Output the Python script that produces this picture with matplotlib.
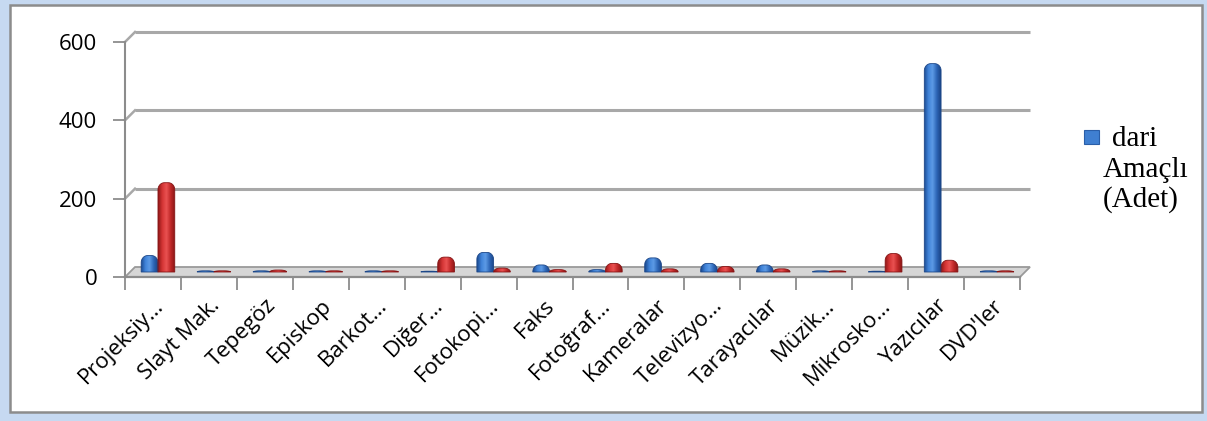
import numpy as np
import matplotlib
matplotlib.use("Agg")
import matplotlib.pyplot as plt
from matplotlib.patches import Polygon, Rectangle, FancyBboxPatch
from matplotlib.colors import LinearSegmentedColormap

plt.rcParams['font.family'] = ['Open Sans', 'DejaVu Sans']

# --- data ---
categories = ["Projeksiy…", "Slayt Mak.", "Tepegöz", "Episkop", "Barkot…",
              "Diğer…", "Fotokopi…", "Faks", "Fotoğraf…", "Kameralar",
              "Televizyo…", "Tarayacılar", "Müzik…", "Mikrosko…", "Yazıcılar",
              "DVD'ler"]
idari = [42, 3, 3, 3, 3, 2, 50, 18, 6, 36, 22, 18, 3, 2, 532, 3]
egitim = [228, 3, 5, 3, 3, 38, 10, 6, 22, 8, 14, 8, 3, 47, 30, 3]
yticks = [0, 200, 400, 600]
legend_lines = ["dari", "Amaçlı", "(Adet)"]

W, H = 1207, 421
n = len(categories)

fig = plt.figure(figsize=(W / 100, H / 100), dpi=100)
fig.patch.set_facecolor('#c6d9f1')


def fx(x):
    return x / W


def fy(y):
    return 1 - y / H


# white chart panel with grey border (behind the axes)
panel = FancyBboxPatch((fx(10), fy(412)), fx(1202) - fx(10), fy(5) - fy(412),
                       boxstyle="square,pad=0", transform=fig.transFigure,
                       facecolor='white', edgecolor='#8c8c8c', lw=1.8, zorder=-5)
fig.patches.append(panel)

# plot area (front plane)
ax_l, ax_r, ax_t, ax_b = 125, 1020, 42, 277
ax = fig.add_axes([fx(ax_l), fy(ax_b), (ax_r - ax_l) / W, (ax_b - ax_t) / H])
ax.set_zorder(2)
ax.patch.set_alpha(0)
for s in ['top', 'right', 'bottom']:
    ax.spines[s].set_visible(False)
ax.spines['left'].set_color('#8c8c8c')
ax.spines['left'].set_linewidth(1.5)

# 3d depth offset (pixels -> data units)
depth = 10
dx = depth * n / (ax_r - ax_l)
dy = depth * 600 / (ax_b - ax_t)

grid_c = '#a8a8a8'
for v in yticks[1:]:
    ax.plot([-0.5 + dx, n - 0.5 + dx], [v + dy, v + dy], color=grid_c, lw=2.2,
            clip_on=False, solid_capstyle='butt', zorder=1)
    ax.plot([-0.5, -0.5 + dx], [v, v + dy], color=grid_c, lw=1.8,
            clip_on=False, zorder=1)

# floor
floor = Polygon([(-0.5, 0), (n - 0.5, 0), (n - 0.5 + dx, dy), (-0.5 + dx, dy)],
                closed=True, facecolor='#d6d6d6', edgecolor='#9a9a9a', lw=1.3,
                clip_on=False, zorder=2)
ax.add_patch(floor)
ax.plot([-0.5, n - 0.5], [0, 0], color='#8c8c8c', lw=1.6, clip_on=False, zorder=2)

blue_cm = LinearSegmentedColormap.from_list(
    'b', ['#1b4a90', '#3f82d8', '#5d9be6', '#2e67b8', '#1a4486'])
red_cm = LinearSegmentedColormap.from_list(
    'r', ['#8f1717', '#d43434', '#ea5252', '#c02828', '#8a1616'])
grad = np.linspace(0, 1, 64).reshape(1, -1)

bw = 0.3
rx = bw * 0.38
ry = 7 * 600 / (ax_b - ax_t)
base = dy / 2


def bar_shape(x0, h):
    r_y = min(ry, h)
    t = np.linspace(0, np.pi / 2, 10)
    top = base + h
    pts = [(x0, base), (x0, top - r_y)]
    pts += [(x0 + rx - rx * np.cos(a), top - r_y + r_y * np.sin(a)) for a in t]
    pts += [(x0 + bw - rx + rx * np.sin(a), top - r_y + r_y * np.cos(a)) for a in t]
    pts += [(x0 + bw, base)]
    return pts


for i in range(n):
    for j, (vals, cm, ec) in enumerate([(idari, blue_cm, '#1d4788'),
                                       (egitim, red_cm, '#861515')]):
        h = vals[i]
        x0 = i + dx / 2 - bw + j * bw
        poly = Polygon(bar_shape(x0, h), closed=True, facecolor='none',
                       edgecolor=ec, lw=0.6, zorder=4, clip_on=False)
        ax.add_patch(poly)
        im = ax.imshow(grad, cmap=cm, extent=(x0, x0 + bw, base, base + h + 1),
                       aspect='auto', zorder=3, interpolation='bilinear')
        im.set_clip_path(poly)

ax.set_xlim(-0.5, n - 0.5)
ax.set_ylim(0, 600)

# axis ticks
ax.set_yticks(yticks)
ax.tick_params(axis='y', length=9, width=1.3, color='#8c8c8c', pad=11,
               labelsize=16, labelcolor='black')
ax.set_xticks(np.arange(n + 1) - 0.5)
ax.set_xticklabels([])
ax.tick_params(axis='x', which='major', length=9, width=1.3, color='#8c8c8c')
ax.set_xticks(np.arange(n), minor=True)
ax.set_xticklabels(categories, minor=True, rotation=45, ha='right',
                   va='top', rotation_mode='anchor', fontsize=16)
ax.tick_params(axis='x', which='minor', length=0, pad=13)

# legend (only the first series is visible in the original)
fig.patches.append(Rectangle((fx(1084), fy(144)), 15 / W, 14 / H,
                             transform=fig.transFigure, facecolor='#3f7fd1',
                             edgecolor='#2a5ea8', lw=0.8))
fig.text(fx(1112), fy(139), legend_lines[0], ha='left', va='center',
         family='Liberation Serif', fontsize=21)
fig.text(fx(1103), fy(170), legend_lines[1], ha='left', va='center',
         family='Liberation Serif', fontsize=21)
fig.text(fx(1103), fy(200), legend_lines[2], ha='left', va='center',
         family='Liberation Serif', fontsize=21)

fig.savefig('out.png', dpi=100)
